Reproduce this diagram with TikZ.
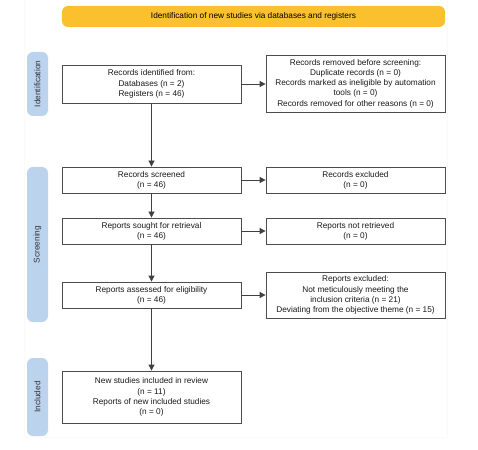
\documentclass[tikz,border=0pt]{standalone}
\usepackage{fontspec}
\setmainfont{Liberation Sans}
\usetikzlibrary{arrows.meta}
\begin{document}
\begin{tikzpicture}[x=1bp,y=-1bp,
  every node/.style={font=\fontsize{8.3}{10.3}\selectfont, align=center, inner sep=0pt},
  box/.style={draw=black!70, line width=0.8bp, minimum width=179bp, text=black!90},
  side/.style={fill=sideblue, rounded corners=6bp, minimum height=21bp, rotate=90, text=black!80},
  conn/.style={draw=black!75, line width=0.8bp, -{Triangle[length=6bp,width=6bp]}}
]
\definecolor{sideblue}{HTML}{BCD3EE}
\definecolor{banner}{HTML}{FBC02D}
\useasboundingbox (0,0) rectangle (478,450);
\draw[black!2, line width=0.5bp] (24,0) -- (24,437) -- (447,437) -- (447,0);
\node[fill=banner, rounded corners=6bp, minimum width=383bp, minimum height=21bp] (ban) at (253.5,16.5) {Identification of new studies via databases and registers};
\node[side, minimum width=64bp] (s1) at (37.5,84) {Identification};
\node[side, minimum width=155bp] (s2) at (37.5,244.5) {Screening};
\node[side, minimum width=78bp] (s3) at (37.5,397) {Included};
\node[box, minimum height=38bp] (id) at (151.5,84) {Records identified from:\\Databases (n = 2)\\Registers (n = 46)};
\node[box, minimum height=57bp] (rem) at (355.5,83.5) {Records removed before screening:\\Duplicate records (n = 0)\\Records marked as ineligible by automation\\tools (n = 0)\\Records removed for other reasons (n = 0)};
\node[box, minimum height=26bp] (scr) at (151.5,180) {Records screened\\(n = 46)};
\node[box, minimum height=26bp] (exc) at (355.5,180) {Records excluded\\(n = 0)};
\node[box, minimum height=26bp] (sou) at (151.5,231) {Reports sought for retrieval\\(n = 46)};
\node[box, minimum height=26bp] (nre) at (355.5,231) {Reports not retrieved\\(n = 0)};
\node[box, minimum height=26bp] (ass) at (151.5,295) {Reports assessed for eligibility\\(n = 46)};
\node[box, minimum height=46bp] (rex) at (355.5,295) {Reports excluded:\\Not meticulously meeting the\\inclusion criteria (n = 21)\\Deviating from the objective theme (n = 15)};
\node[box, minimum height=52bp] (inc) at (151.5,397) {New studies included in review\\(n = 11)\\Reports of new included studies\\(n = 0)};
\draw[conn] (id) -- (id -| rem.west);
\draw[conn] (scr) -- (scr -| exc.west);
\draw[conn] (sou) -- (sou -| nre.west);
\draw[conn] (ass) -- (ass -| rex.west);
\draw[conn] (id) -- (scr);
\draw[conn] (scr) -- (sou);
\draw[conn] (sou) -- (ass);
\draw[conn] (ass) -- (inc);
\end{tikzpicture}
\end{document}
